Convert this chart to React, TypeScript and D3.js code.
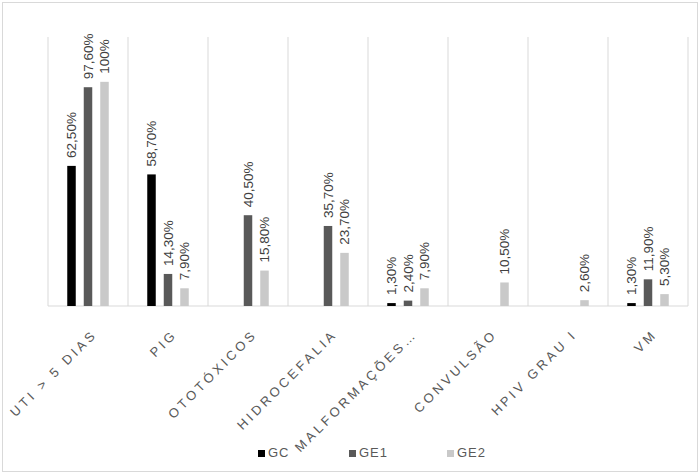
import React from "react";
import * as d3 from "d3";

const categories = [
  "UTI > 5 DIAS",
  "PIG",
  "OTOTÓXICOS",
  "HIDROCEFALIA",
  "MALFORMAÇÕES…",
  "CONVULSÃO",
  "HPIV GRAU I",
  "VM",
];
const seriesNames = ["GC", "GE1", "GE2"];
const gcValues: (number | null)[] = [62.5, 58.7, null, null, 1.3, null, null, 1.3];
const ge1Values: (number | null)[] = [97.6, 14.3, 40.5, 35.7, 2.4, null, null, 11.9];
const ge2Values: (number | null)[] = [100, 7.9, 15.8, 23.7, 7.9, 10.5, 2.6, 5.3];
const seriesColors = ["#000000", "#595959", "#c9c9c9"];

const W = 700;
const H = 475;
const plot = { left: 48, right: 688, top: 37, bottom: 306 };

const fmt = (v: number) =>
  Number.isInteger(v) ? `${v}%` : v.toFixed(2).replace(".", ",") + "%";

export default function App() {
  const allSeries = [gcValues, ge1Values, ge2Values];
  const x = d3.scaleBand<string>().domain(categories).range([plot.left, plot.right]);
  const xSub = d3
    .scaleBand<string>()
    .domain(seriesNames)
    .range([0, x.bandwidth()])
    .paddingInner(0.485)
    .paddingOuter(1.167);
  const y = d3.scaleLinear().domain([0, 1.2]).range([plot.bottom, plot.top]);
  const font = "Arial, 'Liberation Sans', sans-serif";

  const gridXs = [...categories.map((c) => x(c)!), plot.right];

  return (
    <svg
      width={W}
      height={H}
      style={{ position: "absolute", left: 0, top: 0, background: "#fff" }}
      fontFamily={font}
    >
      <rect x={2.5} y={2.5} width={695} height={469} fill="#fff" stroke="#d9d9d9" />
      {gridXs.map((gx, i) => (
        <line
          key={"g" + i}
          x1={gx}
          x2={gx}
          y1={plot.top}
          y2={plot.bottom}
          stroke="#d9d9d9"
          strokeWidth={1}
        />
      ))}
      <line x1={plot.left} x2={plot.right} y1={plot.bottom} y2={plot.bottom} stroke="#d9d9d9" />
      {allSeries.map((vals, si) =>
        vals.map((v, ci) => {
          if (v == null) return null;
          const bx = x(categories[ci])! + xSub(seriesNames[si])!;
          const by = y(v / 100);
          return (
            <rect
              key={`b${si}-${ci}`}
              x={bx}
              y={by}
              width={xSub.bandwidth()}
              height={plot.bottom - by}
              fill={seriesColors[si]}
            />
          );
        })
      )}
      {allSeries.map((vals, si) =>
        vals.map((v, ci) => {
          if (v == null) return null;
          const cx = x(categories[ci])! + xSub(seriesNames[si])! + xSub.bandwidth() / 2;
          const by = y(v / 100);
          return (
            <text
              key={`l${si}-${ci}`}
              transform={`translate(${cx},${by - 8}) rotate(-90)`}
              dy="0.35em"
              fontSize={13.5}
              fill="#404040"
            >
              {fmt(v)}
            </text>
          );
        })
      )}
      {categories.map((c, i) => {
        const cx = x(c)! + x.bandwidth() / 2;
        return (
          <text
            key={"x" + i}
            transform={`translate(${cx + 10},${335}) rotate(-45)`}
            textAnchor="end"
            fontSize={13}
            letterSpacing={3.3}
            fill="#595959"
          >
            {c}
          </text>
        );
      })}
      {seriesNames.map((s, i) => {
        const lx = [258, 349, 447][i];
        return (
          <g key={"lg" + i}>
            <rect x={lx} y={450} width={7} height={7} fill={seriesColors[i]} />
            <text x={lx + 10} y={457} fontSize={13} letterSpacing={1} fill="#595959">
              {s}
            </text>
          </g>
        );
      })}
    </svg>
  );
}
